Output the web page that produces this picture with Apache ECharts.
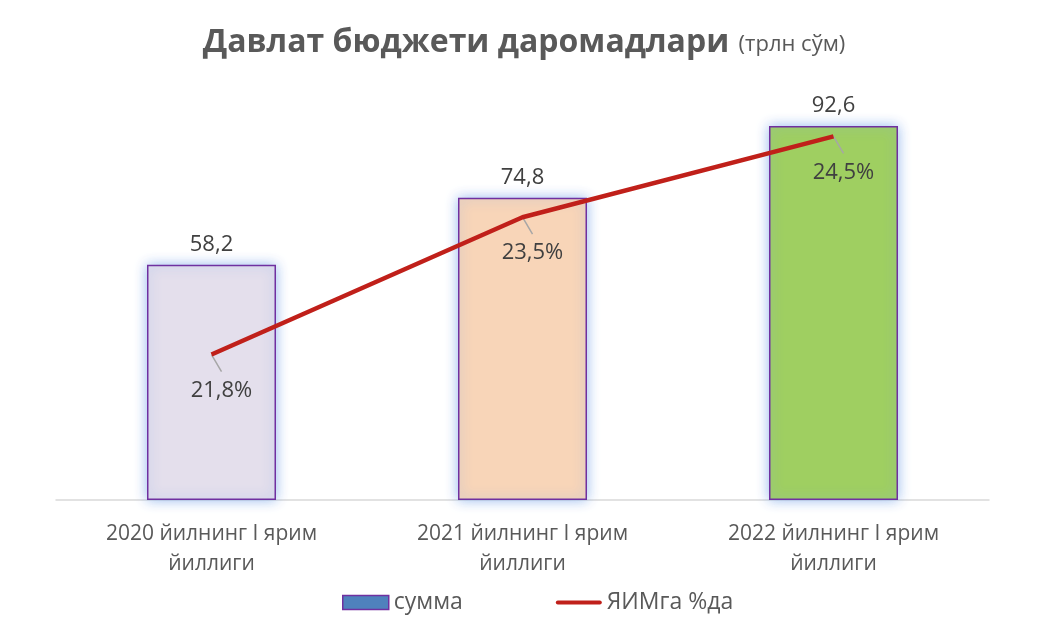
<!DOCTYPE html>
<html>
<head>
<meta charset="utf-8">
<script src="https://cdn.jsdelivr.net/npm/echarts@6/dist/echarts.min.js"></script>
<style>
  html, body { margin: 0; padding: 0; background: #fff; }
  #chart { width: 1048px; height: 626px; }
</style>
</head>
<body>
<div id="chart"></div>
<script>
// ==================== 数据 ====================

const categories = ['2020 йилнинг I ярим\nйиллиги', '2021 йилнинг I ярим\nйиллиги', '2022 йилнинг I ярим\nйиллиги'];
const sumValues = [58.2, 74.8, 92.6];
const gdpShare = [21.8, 23.5, 24.5];
const barColors = ['#E4DFEC', '#F8D5B8', '#9FCF61'];

const FONT = '"Open Sans", sans-serif';

// 格式化：小数点改逗号
function fmt(v) {
  return v.toFixed(1).replace('.', ',');
}

const chart = echarts.init(document.getElementById('chart'));

chart.setOption({
  animation: false,
  textStyle: { fontFamily: FONT },
  title: {
    left: 'center',
    top: 22,
    text: '{b|Давлат бюджети даромадлари}  {s|(трлн сўм)}',
    textStyle: {
      rich: {
        b: { fontSize: 32, fontWeight: 'bold', color: '#595959', fontFamily: FONT },
        s: { fontSize: 22, fontWeight: 'normal', color: '#595959', fontFamily: FONT, padding: [4, 0, 0, 0] }
      }
    }
  },
  legend: {
    bottom: 12,
    left: 342,
    padding: 0,
    itemWidth: 46,
    itemHeight: 14,
    itemGap: 93,
    textStyle: { fontSize: 23, color: '#595959', fontFamily: FONT },
    data: [
      { name: 'сумма', icon: 'rect', itemStyle: { color: '#4F81BD', borderColor: '#7030A0', borderWidth: 1.5 } },
      {
        name: 'ЯИМга %да',
        icon: 'path://M0,0 M46,14 M2,5 L44,5 A2,2 0 0 1 44,9 L2,9 A2,2 0 0 1 2,5 Z',
        itemStyle: { color: '#C0201A', borderWidth: 0 }
      }
    ]
  },
  grid: { left: 56, right: 59, top: 96, bottom: 126 },
  xAxis: {
    type: 'category',
    data: categories,
    axisLine: { lineStyle: { color: '#D9D9D9', width: 1.5 } },
    axisTick: { show: false },
    axisLabel: { fontSize: 21, color: '#595959', lineHeight: 30, margin: 19, fontFamily: FONT }
  },
  yAxis: [
    { type: 'value', min: 0, max: 100, show: false, splitLine: { show: false } },
    { type: 'value', min: 20, max: 25, show: false, splitLine: { show: false } }
  ],
  series: [
    {
      name: 'сумма',
      type: 'bar',
      barWidth: 129,
      data: sumValues.map((v, i) => ({ value: v, itemStyle: { color: barColors[i] } })),
      itemStyle: {
        color: '#4F81BD',
        borderColor: '#7030A0',
        borderWidth: 1.5,
        shadowBlur: 12,
        shadowColor: 'rgba(130,172,235,0.85)'
      },
      label: {
        show: true,
        position: 'top',
        distance: 9,
        fontSize: 22,
        color: '#404040',
        fontFamily: FONT,
        formatter: p => fmt(p.value)
      }
    },
    {
      name: 'ЯИМга %да',
      type: 'line',
      yAxisIndex: 1,
      data: gdpShare,
      symbol: 'none',
      lineStyle: { color: '#C0201A', width: 4.5 },
      itemStyle: { color: '#C0201A' },
      z: 5
    },
    // 标签引导线 + 百分比标签
    {
      name: 'labels',
      type: 'custom',
      yAxisIndex: 1,
      data: gdpShare.map((v, i) => [i, v]),
      z: 4,
      encode: { x: 0, y: 1 },
      renderItem: function (params, api) {
        const p = api.coord([api.value(0), api.value(1)]);
        return {
          type: 'group',
          children: [
            {
              type: 'line',
              shape: { x1: p[0], y1: p[1], x2: p[0] + 10, y2: p[1] + 17 },
              style: { stroke: '#A6A6A6', lineWidth: 1.5 }
            },
            {
              type: 'text',
              style: {
                x: p[0] + 10,
                y: p[1] + 36,
                text: fmt(api.value(1)) + '%',
                fill: '#404040',
                fontSize: 22,
                fontFamily: FONT,
                align: 'center',
                verticalAlign: 'middle'
              }
            }
          ]
        };
      }
    }
  ]
});
</script>
</body>
</html>
